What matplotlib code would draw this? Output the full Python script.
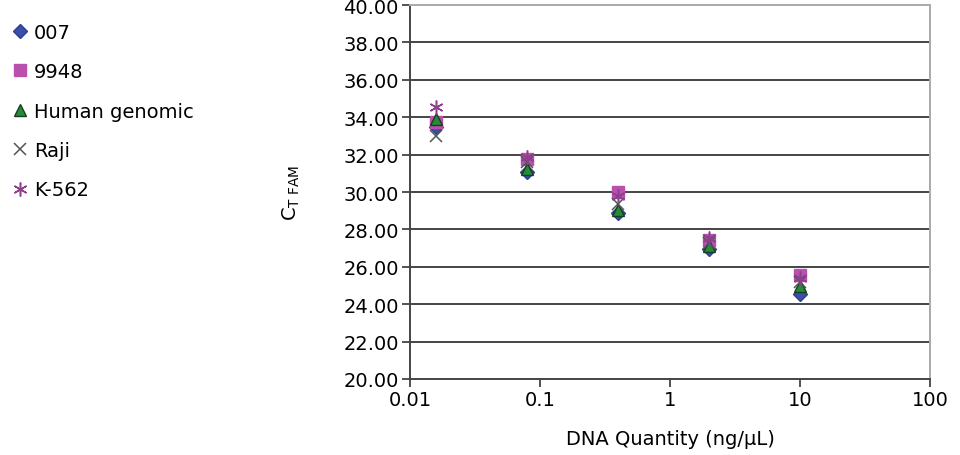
import matplotlib
matplotlib.use("Agg")
import matplotlib.pyplot as plt

plt.rcParams["font.family"] = ["DejaVu Sans"]

# DNA quantity (ng/uL) dilution series
quantity = [0.016, 0.08, 0.4, 2, 10]

# Ct FAM values per sample
ct_007 = [33.5, 31.05, 28.9, 26.95, 24.55]
ct_9948 = [33.75, 31.75, 30.02, 27.45, 25.55]
ct_human = [33.9, 31.25, 29.05, 27.1, 25.0]
ct_raji = [33.0, 31.6, 29.35, 27.3, 25.2]
ct_k562 = [34.55, 31.9, 29.8, 27.55, 25.4]

names = ["007", "9948", "Human genomic", "Raji", "K-562"]
yticks = [20, 22, 24, 26, 28, 30, 32, 34, 36, 38, 40]

fig = plt.figure(figsize=(9.6, 4.56), dpi=100)
ax = fig.add_axes([0.427, 0.1667, 0.542, 0.820])

styles = [
    dict(marker="D", color="#3B4FA6", markersize=7, markeredgecolor="#2E3F8F"),
    dict(marker="s", color="#B950AE", markersize=8, markeredgecolor="#B950AE"),
    dict(marker="^", color="#238B3A", markersize=9, markeredgecolor="#1A3D22"),
    dict(marker="x", color="#555555", markersize=8, markeredgewidth=1.1),
    dict(marker=(6, 2, 0), color="#8E3F8E", markersize=10, markeredgewidth=1.1),
]
series = [ct_007, ct_9948, ct_human, ct_raji, ct_k562]
handles = []
for vals, st, name in zip(series, styles, names):
    h, = ax.plot(quantity, vals, linestyle="none", label=name, zorder=3, **st)
    handles.append(h)

ax.set_xscale("log")
ax.set_xlim(0.01, 100)
ax.set_ylim(20, 40)
ax.set_xticks([0.01, 0.1, 1, 10, 100])
ax.set_xticklabels(["0.01", "0.1", "1", "10", "100"])
ax.minorticks_off()
ax.set_yticks(yticks)
ax.set_yticklabels([f"{v:.2f}" for v in yticks])
ax.tick_params(labelsize=14, length=6, width=1.3, color="#444444", pad=2)

for v in yticks[1:-1]:
    ax.axhline(v, color="#444444", lw=1.4, zorder=1)

for s in ["left", "bottom"]:
    ax.spines[s].set_color("#444444")
    ax.spines[s].set_linewidth(1.4)
for s in ["top", "right"]:
    ax.spines[s].set_color("#AAAAAA")
    ax.spines[s].set_linewidth(1.4)

ax.set_xlabel("DNA Quantity (ng/\u00b5L)", fontsize=14, labelpad=14)
ax.set_ylabel("C$_\\mathregular{T\\ FAM}$", fontsize=14, labelpad=30)

fig.legend(handles=handles, loc="upper left", bbox_to_anchor=(0.005, 0.965),
           frameon=False, fontsize=14, handlelength=0.8, handletextpad=0.3,
           labelspacing=1.05, borderaxespad=0)

fig.savefig("out.png", dpi=100)
